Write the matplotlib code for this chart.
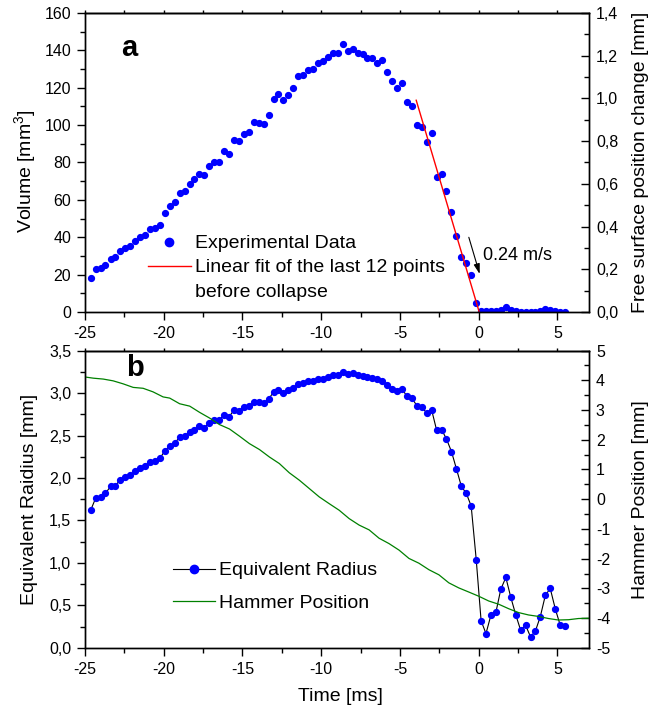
import matplotlib
matplotlib.use("Agg")
import matplotlib.pyplot as plt
from matplotlib.lines import Line2D
from matplotlib.ticker import MultipleLocator, FuncFormatter

plt.rcParams["font.family"] = ["Liberation Sans", "DejaVu Sans"]
plt.rcParams["axes.unicode_minus"] = False
plt.rcParams["mathtext.fontset"] = "custom"
plt.rcParams["mathtext.rm"] = "Liberation Sans"
plt.rcParams["mathtext.it"] = "Liberation Sans"

# frame times [ms]
time_ms = [
    -24.64, -24.33, -24.01, -23.70, -23.38, -23.07, -22.76, -22.44, -22.13, -21.82,
    -21.50, -21.19, -20.87, -20.56, -20.25, -19.93, -19.62, -19.31, -18.99, -18.68,
    -18.36, -18.05, -17.74, -17.42, -17.11, -16.80, -16.48, -16.17, -15.85, -15.54,
    -15.23, -14.91, -14.60, -14.28, -13.97, -13.66, -13.34, -13.03, -12.72, -12.40,
    -12.09, -11.77, -11.46, -11.15, -10.83, -10.52, -10.21, -9.89, -9.58, -9.26,
    -8.95, -8.64, -8.32, -8.01, -7.69, -7.38, -7.07, -6.75, -6.44, -6.13,
    -5.81, -5.50, -5.18, -4.87, -4.56, -4.24, -3.93, -3.61, -3.30, -2.99,
    -2.67, -2.36, -2.05, -1.73, -1.42, -1.10, -0.79, -0.48, -0.16, 0.15,
    0.46, 0.78, 1.09, 1.40, 1.72, 2.03, 2.35, 2.66, 2.97, 3.29,
    3.60, 3.91, 4.23, 4.54, 4.86, 5.17, 5.48,
]

volume_mm3 = [
    18.2, 23.0, 23.8, 25.4, 28.6, 29.5, 32.7, 34.3, 35.4, 38.0,
    40.4, 41.4, 44.3, 45.0, 46.4, 52.9, 56.8, 58.6, 63.9, 64.8,
    68.4, 71.1, 74.1, 73.4, 78.0, 80.4, 80.4, 86.1, 84.5, 92.0,
    91.4, 95.2, 96.4, 101.4, 101.3, 100.5, 105.5, 113.8, 116.6, 113.4,
    116.1, 119.8, 126.3, 126.8, 129.3, 129.8, 133.0, 134.1, 136.4, 138.8,
    138.8, 143.4, 139.8, 140.9, 138.4, 137.9, 135.7, 135.7, 133.0, 134.7,
    128.2, 123.5, 119.9, 122.8, 112.4, 110.4, 100.3, 99.1, 90.8, 96.0,
    72.4, 73.7, 64.5, 53.4, 40.6, 29.5, 26.1, 20.0, 4.9, 0.3,
    0.3, 0.3, 0.5, 1.0, 2.5, 1.0, 0.3, 0.2, 0.2, 0.2,
    0.2, 0.5, 1.5, 1.0, 0.4, 0.2, 0.1,
]

radius_mm = [
    1.62, 1.76, 1.78, 1.82, 1.90, 1.91, 1.98, 2.01, 2.03, 2.08,
    2.12, 2.14, 2.19, 2.20, 2.23, 2.32, 2.38, 2.41, 2.48, 2.49,
    2.54, 2.57, 2.61, 2.59, 2.65, 2.68, 2.68, 2.74, 2.72, 2.80,
    2.79, 2.84, 2.85, 2.89, 2.89, 2.88, 2.93, 3.01, 3.03, 3.00,
    3.03, 3.06, 3.11, 3.12, 3.14, 3.14, 3.16, 3.17, 3.19, 3.21,
    3.21, 3.25, 3.22, 3.23, 3.21, 3.20, 3.19, 3.18, 3.16, 3.14,
    3.09, 3.05, 3.02, 3.05, 2.96, 2.94, 2.85, 2.84, 2.76, 2.80,
    2.56, 2.57, 2.46, 2.31, 2.11, 1.90, 1.82, 1.67, 1.04, 0.32,
    0.17, 0.39, 0.42, 0.69, 0.83, 0.60, 0.39, 0.21, 0.27, 0.13,
    0.20, 0.37, 0.62, 0.70, 0.46, 0.27, 0.26,
]

# linear fit of the last 12 points before collapse
fit_time = [-3.97, 0.03]
fit_volume = [113.3, 0.0]

hammer_time = [
    -25.0, -24.47, -23.84, -23.21, -22.58, -21.94, -21.31, -20.68, -20.04, -19.62,
    -18.99, -18.35, -17.72, -17.09, -16.46, -15.82, -15.19, -14.56, -13.92, -13.29,
    -12.66, -12.03, -11.39, -10.76, -10.13, -9.49, -8.86, -8.23, -7.59, -6.96,
    -6.33, -5.70, -5.06, -4.43, -3.80, -3.16, -2.53, -1.90, -1.27, -0.63,
    0.0, 0.63, 1.27, 1.90, 2.53, 3.16, 3.80, 4.43, 5.06, 5.70,
    6.33, 7.0,
]
hammer_mm = [
    4.11, 4.07, 4.04, 3.98, 3.88, 3.76, 3.73, 3.61, 3.44, 3.40,
    3.21, 3.13, 2.92, 2.73, 2.51, 2.36, 2.12, 1.87, 1.67, 1.42,
    1.20, 0.89, 0.64, 0.36, 0.08, -0.15, -0.37, -0.65, -0.87, -1.03,
    -1.31, -1.49, -1.71, -1.99, -2.15, -2.37, -2.54, -2.81, -2.98, -3.12,
    -3.26, -3.42, -3.53, -3.68, -3.81, -3.89, -3.94, -4.01, -4.06, -4.05,
    -4.01, -4.00,
]

TICK_FS = 11.5
LABEL_FS = 14


def comma(fmt):
    return FuncFormatter(lambda v, pos: fmt.format(v).replace(".", ","))


def style_axes(ax, ax2):
    ax.set_xlim(-25, 7)
    ax.xaxis.set_major_locator(MultipleLocator(5))
    ax.xaxis.set_minor_locator(MultipleLocator(2.5))
    ax.tick_params(axis="both", which="major", direction="out",
                   length=6, width=1, labelsize=TICK_FS, pad=4)
    ax.tick_params(axis="both", which="minor", direction="out",
                   length=3.5, width=1)
    ax.tick_params(axis="x", top=False)
    ax2.tick_params(axis="y", which="major", direction="in",
                    length=6, width=1, labelsize=TICK_FS, pad=5)
    ax2.tick_params(axis="y", which="minor", direction="in",
                    length=3.5, width=1)
    for spine in ax.spines.values():
        spine.set_linewidth(1)
    for spine in ax2.spines.values():
        spine.set_linewidth(1)
    top = ax.secondary_xaxis("top")
    top.xaxis.set_major_locator(MultipleLocator(2.5))
    top.tick_params(direction="out", length=2, width=1, labeltop=False)
    top.spines["top"].set_linewidth(1)


fig = plt.figure(figsize=(6.65, 7.13), dpi=100)

# ---- panel a ----
ax_a = fig.add_axes([0.1278, 0.5624, 0.7579, 0.4194])
ax_a2 = ax_a.twinx()

ax_a.plot(time_ms, volume_mm3, ls="none", marker="o", ms=4.2,
          color="#0000ff", mec="#0000ff")
ax_a.plot(fit_time, fit_volume, color="#ff0000", lw=1)

ax_a.set_ylim(0, 160)
ax_a.yaxis.set_major_locator(MultipleLocator(20))
ax_a.yaxis.set_minor_locator(MultipleLocator(10))
ax_a2.set_ylim(0, 1.4)
ax_a2.yaxis.set_major_locator(MultipleLocator(0.2))
ax_a2.yaxis.set_minor_locator(MultipleLocator(0.1))
ax_a2.yaxis.set_major_formatter(comma("{:.1f}"))
style_axes(ax_a, ax_a2)

ax_a.set_ylabel("Volume [mm$^3$]", fontsize=LABEL_FS)
ax_a.yaxis.set_label_coords(-0.093, 0.47)
ax_a2.set_ylabel("Free surface position change [mm]", fontsize=LABEL_FS)
ax_a2.yaxis.set_label_coords(1.085, 0.5)

ax_a.annotate(
    "",
    xy=(0.11, 18.9),
    xytext=(-0.68, 41.4),
    arrowprops=dict(arrowstyle="-|>,head_length=0.6,head_width=0.18",
                    color="black", lw=0.8),
)
ax_a.text(0.3, 30, "0.24 m/s", fontsize=13, va="center")
ax_a.text(-22.2, 141, "a", fontsize=21, fontweight="bold",
          ha="center", va="center")

handles_a = [
    Line2D([], [], ls="none", marker="o", ms=6, color="#0000ff"),
    Line2D([], [], color="#ff0000", lw=1),
    Line2D([], [], color="none"),
]
labels_a = [
    "Experimental Data",
    "Linear fit of the last 12 points",
    "before collapse",
]
ax_a2.legend(handles_a, labels_a, loc="upper left",
             bbox_to_anchor=(0.125, 0.258), frameon=False,
             fontsize=LABEL_FS, handlelength=2.2, handletextpad=0.2,
             labelspacing=0.33, borderpad=0, borderaxespad=0)

# ---- panel b ----
ax_b = fig.add_axes([0.1278, 0.0912, 0.7579, 0.4172])
ax_b2 = ax_b.twinx()

ax_b.plot(time_ms, radius_mm, color="black", lw=0.8, marker="o", ms=4.2,
          mfc="#0000ff", mec="#0000ff")
ax_b2.plot(hammer_time, hammer_mm, color="#008000", lw=0.9)

ax_b.set_ylim(0, 3.5)
ax_b.yaxis.set_major_locator(MultipleLocator(0.5))
ax_b.yaxis.set_minor_locator(MultipleLocator(0.25))
ax_b.yaxis.set_major_formatter(comma("{:.1f}"))
ax_b2.set_ylim(-5, 5)
ax_b2.yaxis.set_major_locator(MultipleLocator(1))
ax_b2.yaxis.set_minor_locator(MultipleLocator(0.5))
style_axes(ax_b, ax_b2)

ax_b.set_xlabel("Time [ms]", fontsize=LABEL_FS)
ax_b.xaxis.set_label_coords(0.506, -0.134)
ax_b.set_ylabel("Equivalent Raidius [mm]", fontsize=LABEL_FS)
ax_b.yaxis.set_label_coords(-0.093, 0.5)
ax_b2.set_ylabel("Hammer Position [mm]", fontsize=LABEL_FS)
ax_b2.yaxis.set_label_coords(1.085, 0.5)

ax_b.text(-21.85, 3.29, "b", fontsize=21, fontweight="bold",
          ha="center", va="center")

handles_b = [
    Line2D([], [], color="black", lw=0.8, marker="o", ms=6,
           mfc="#0000ff", mec="#0000ff"),
    Line2D([], [], color="#008000", lw=0.9),
]
labels_b = ["Equivalent Radius", "Hammer Position"]
ax_b2.legend(handles_b, labels_b, loc="upper left",
             bbox_to_anchor=(0.174, 0.29), frameon=False,
             fontsize=LABEL_FS, handlelength=2.2, handletextpad=0.2,
             labelspacing=0.75, borderpad=0, borderaxespad=0)

fig.savefig("out.png", dpi=100)
